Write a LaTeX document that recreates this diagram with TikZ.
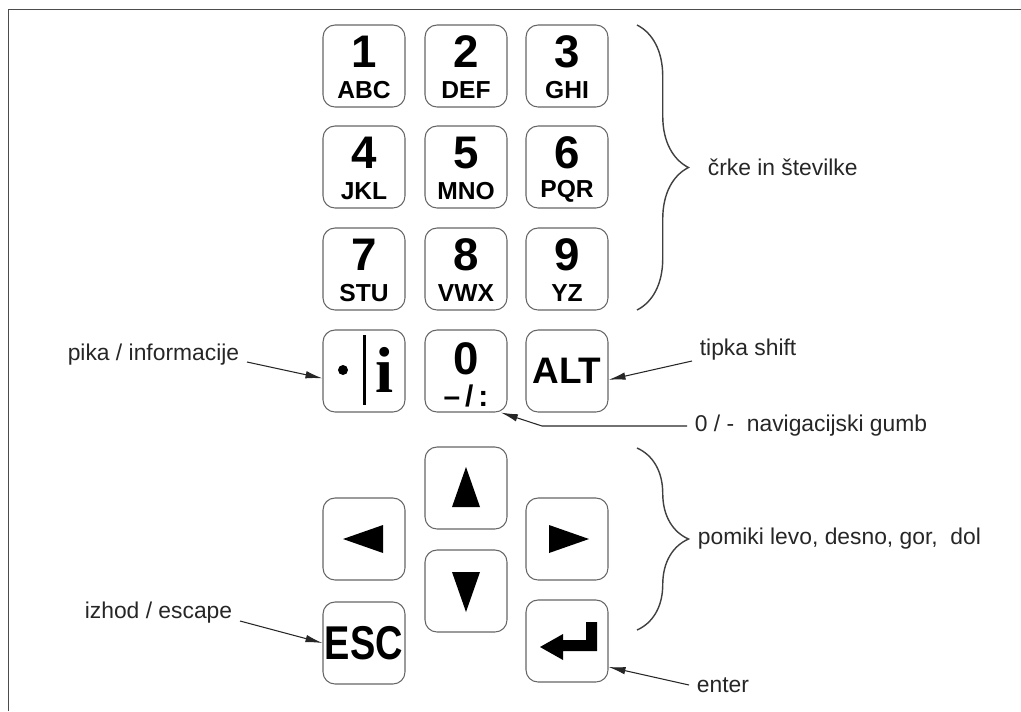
\documentclass[tikz,border=0pt]{standalone}
\usepackage{fontspec}
\setmainfont{Liberation Sans}
\newfontfamily\serifbf{Liberation Serif}
\usetikzlibrary{calc,arrows.meta,decorations.pathreplacing}

\begin{document}
\begin{tikzpicture}[x=0.02cm,y=-0.02cm,
   key/.style={draw=black!60,line width=0.6pt,rounded corners=0.24cm,minimum size=1.64cm,inner sep=0pt},
   dig/.style={font=\fontsize{26}{26}\selectfont\bfseries,inner sep=0pt},
   abc/.style={font=\fontsize{14}{14}\selectfont\bfseries,inner sep=0pt},
   lbl/.style={font=\fontsize{13}{15}\selectfont,inner sep=0.15cm,text=black!85},
   pointer/.style={-{Latex[length=0.34cm,width=0.15cm]},line width=0.6pt,black!85},
   brc/.style={decorate,decoration={brace,amplitude=1.03cm},line width=0.8pt,black!75}]
   \useasboundingbox (0,0) rectangle (1021,711);
   \draw[black!70,line width=0.5pt] (8,711) |- (1021,9);
   % number keys
   \foreach \n/\x/\y/\d/\l in {k1/364/66/1/ABC,k2/466/66/2/DEF,k3/567/66/3/GHI,
      k4/364/167/4/JKL,k5/466/167/5/MNO,k6/567/167/6/PQR,
      k7/364/269/7/STU,k8/466/269/8/VWX,k9/567/269/9/YZ}{
      \node[key] (\n) at (\x,\y) {};
      \node[dig] (\n d) at ($(\n)+(0,-14)$) {\d};
      \node[abc] (\n l) at ($(\n)+(0,24)$) {\l};
   }
   % fourth row
   \node[key] (kpt) at (364,371) {};
   \fill ($(kpt)+(-21,-1)$) circle(0.1cm);
   \draw[line width=0.06cm] ($(kpt)+(0,-36)$) -- ($(kpt)+(0,34)$);
   \node[font=\serifbf\fontsize{37}{37}\selectfont\bfseries,inner sep=0pt] (ki) at ($(kpt)+(21,-1)$) {i};
   \node[key] (k0) at (466,371) {};
   \node[dig] (k0d) at ($(k0)+(0,-12)$) {0};
   \node[abc,font=\fontsize{17}{17}\selectfont\bfseries] (k0l) at ($(k0)+(0,25)$) {–\,/\,:};
   \node[key,font=\fontsize{21}{21}\selectfont\bfseries] (kalt) at (567,371) {ALT};
   % arrow keys
   \node[key] (kup) at (466,488) {};
   \node[key] (kdn) at (466,591) {};
   \node[key] (klt) at (364,539) {};
   \node[key] (krt) at (567,539) {};
   \node[key,font=\fontsize{27}{27}\selectfont\bfseries] (kesc) at (364,643) {\scalebox{0.8}[1]{ESC}};
   \node[key] (kent) at (567,641) {};
   \fill ($(kup)+(0,-21)$) -- ++(14,40) -- ++(-28,0) -- cycle;
   \fill ($(kdn)+(0,21)$) -- ++(14,-40) -- ++(-28,0) -- cycle;
   \fill ($(klt)+(-21,0)$) -- ++(40,-14) -- ++(0,28) -- cycle;
   \fill ($(krt)+(22,0)$) -- ++(-40,-14) -- ++(0,28) -- cycle;
   \fill ($(kent)+(-27,6)$) -- ++(23,-13) -- ++(0,6) -- ++(23,0) -- ++(0,-18)
      -- ++(11,0) -- ++(0,29) -- ++(-34,0) -- ++(0,9) -- cycle;
   % labels
   \node[lbl,anchor=west] (crke) at (700,167) {črke in številke};
   \node[lbl,anchor=east] (pika) at (247,355) {pika / informacije};
   \node[lbl,anchor=west] (shift) at (692,350) {tipka shift};
   \node[lbl,anchor=west] (nav) at (687,426) {0 / -\ \ navigacijski gumb};
   \node[lbl,anchor=west] (pomik) at (690,539) {pomiki levo, desno, gor,\ \ dol};
   \node[lbl,anchor=east] (izhod) at (240,613) {izhod / escape};
   \node[lbl,anchor=west] (enter) at (689,685) {enter};
   \draw[pointer] ([yshift=-0.14cm]pika.east) -- (kpt.190);
   \draw[pointer] ([yshift=-0.22cm]shift.west) -- (kalt.-12);
   \draw[pointer] (nav.west) -- ++(-145,0) -- (k0.-50);
   \draw[pointer] ([yshift=-0.16cm]izhod.east) -- (kesc.west);
   \draw[pointer] (enter.west) -- (kent.-32);
   % braces
   \draw[brc] (637,25) -- (637,310);
   \draw[brc] (637,448) -- (637,630);
\end{tikzpicture}
\end{document}
